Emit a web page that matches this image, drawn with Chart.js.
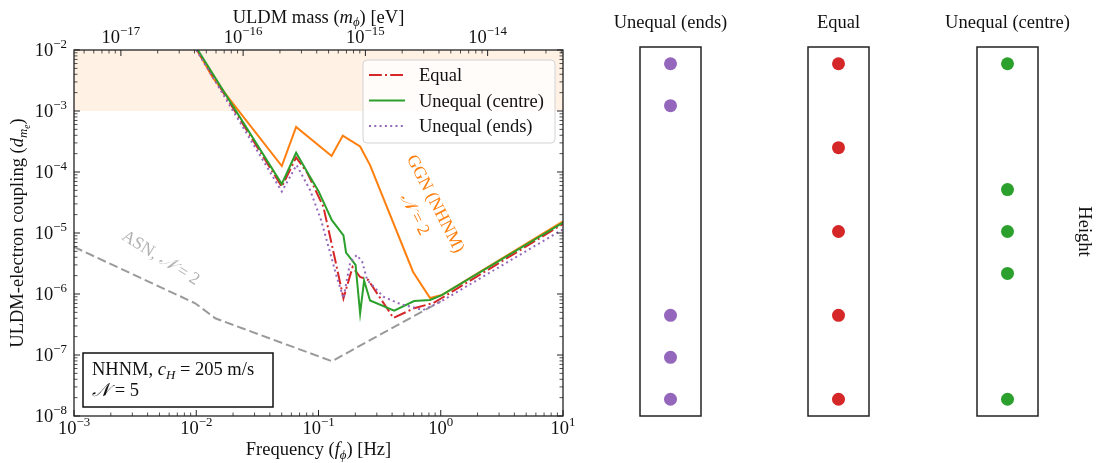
<!DOCTYPE html>
<html>
<head>
<meta charset="utf-8">
<script src="https://cdn.jsdelivr.net/npm/chart.js@4.4.0/dist/chart.umd.min.js"></script>
<style>
  body { margin: 0; background: #fff; width: 1100px; height: 463px; overflow: hidden; position: relative; }
  canvas { position: absolute; top: 0; }
</style>
</head>
<body>
<canvas id="main" width="600" height="463" style="left:0"></canvas>
<canvas id="panelEnds" width="170" height="463" style="left:586px"></canvas>
<canvas id="panelEqual" width="170" height="463" style="left:754px"></canvas>
<canvas id="panelCentre" width="177" height="463" style="left:923px"></canvas>
<script>
// frequency [Hz] / coupling values
const ggnFreq = [0.01, 0.0137, 0.0501, 0.0656, 0.128, 0.158, 0.219, 0.264, 0.594, 0.818, 1.02, 10];
const ggnCoupling = [1.05e-2, 3.48e-3, 1.25e-4, 5.47e-4, 1.83e-4, 3.96e-4, 2.62e-4, 1.30e-4, 2.30e-6, 8.6e-7, 9.6e-7, 1.55e-5];

const equalFreq = [0.01, 0.0501, 0.0656, 0.0807, 0.1096, 0.137, 0.160, 0.190, 0.219, 0.255, 0.410, 0.605, 0.867, 1.02, 10];
const equalCoupling = [1.05e-2, 5.74e-5, 1.73e-4, 9.8e-5, 2.70e-5, 3.60e-6, 8.5e-7, 2.77e-6, 1.9e-6, 1.70e-6, 4.05e-7, 5.83e-7, 7.1e-7, 8.6e-7, 1.41e-5];

const centreFreq = [0.01, 0.0501, 0.0656, 0.0826, 0.0998, 0.1286, 0.160, 0.168, 0.201, 0.219, 0.236, 0.264, 0.416, 0.605, 0.818, 1.02, 10];
const centreCoupling = [1.1e-2, 6.35e-5, 2.07e-4, 9.27e-5, 4.89e-5, 1.62e-5, 9.16e-6, 4.79e-6, 2.99e-6, 4.82e-7, 1.66e-6, 7.82e-7, 5.32e-7, 7.67e-7, 7.98e-7, 9.6e-7, 1.48e-5];

const endsFreq = [0.01, 0.0501, 0.0662, 0.0853, 0.105, 0.141, 0.160, 0.182, 0.206, 0.228, 0.250, 0.340, 0.466, 0.718, 0.989, 10];
const endsCoupling = [1.0e-2, 4.79e-5, 1.30e-4, 5.07e-5, 1.63e-5, 1.92e-6, 8.5e-7, 3.39e-6, 4.36e-6, 3.35e-6, 1.70e-6, 9.0e-7, 6.86e-7, 5.47e-7, 7.4e-7, 1.15e-5];

const asnFreq = [0.001, 0.0098, 0.0143, 0.1286, 1.0];
const asnCoupling = [5.9e-6, 7.05e-7, 4.0e-7, 7.9e-8, 7.6e-7];

const excludedBand = [1e-3, 1e-2];

const freqTicks = [1e-3, 1e-2, 1e-1, 1e0, 1e1];
const couplingTicks = [1e-8, 1e-7, 1e-6, 1e-5, 1e-4, 1e-3, 1e-2];
const massTicks = [1e-17, 1e-16, 1e-15, 1e-14];
const EV_PER_HZ = 1 / 2.418e14;

// sensor heights in the three configurations
const endsHeights = [0, 0.5, 1, 3.5, 4];
const equalHeights = [0, 1, 2, 3, 4];
const centreHeights = [0, 1.5, 2, 2.5, 4];

const SERIF = '"Liberation Serif", "DejaVu Serif", serif';
const FS = 18.5;
const CAL_N = '\u{1D4A9}';

function pairs(xs, ys) { return xs.map((x, i) => ({ x: x, y: ys[i] })); }

function segFont(s, size) {
  const k = s.sub === 2 ? 0.52 : (s.sub || s.sup) ? 0.7 : 1;
  return (s.it ? 'italic ' : '') + (size * k).toFixed(1) + 'px ' + SERIF;
}
function richWidth(ctx, segs, size) {
  let w = 0;
  segs.forEach(s => { ctx.font = segFont(s, size); w += ctx.measureText(s.t).width; });
  return w;
}
function drawRich(ctx, segs, x, y, size, color, align, angle) {
  ctx.save();
  ctx.translate(x, y);
  if (angle) ctx.rotate(angle);
  ctx.fillStyle = color;
  ctx.textBaseline = 'alphabetic';
  ctx.textAlign = 'left';
  const w = richWidth(ctx, segs, size);
  let cx = align === 'center' ? -w / 2 : align === 'right' ? -w : 0;
  segs.forEach(s => {
    ctx.font = segFont(s, size);
    const dy = s.sub === 2 ? size * 0.36 : s.sub ? size * 0.2 : s.sup ? -size * 0.42 : 0;
    ctx.fillText(s.t, cx, dy);
    cx += ctx.measureText(s.t).width;
  });
  ctx.restore();
}
function powSegs(v) {
  const e = Math.round(Math.log10(v));
  return [{ t: '10' }, { t: (e < 0 ? '\u2212' : '') + Math.abs(e), sup: true }];
}
function logSteps(min, max) {
  const out = { major: [], minor: [] };
  for (let d = Math.floor(Math.log10(min)) - 1; d <= Math.ceil(Math.log10(max)); d++) {
    for (let k = 1; k < 10; k++) {
      const v = k * Math.pow(10, d);
      if (v < min * 0.9999 || v > max * 1.0001) continue;
      (k === 1 ? out.major : out.minor).push(v);
    }
  }
  return out;
}

const mainDecor = {
  id: 'mainDecor',
  beforeDatasetsDraw(chart) {
    const { ctx, chartArea: a, scales: { y } } = chart;
    const top = y.getPixelForValue(excludedBand[1]);
    const bot = y.getPixelForValue(excludedBand[0]);
    ctx.save();
    ctx.fillStyle = 'rgba(255,140,30,0.12)';
    ctx.fillRect(a.left, top, a.right - a.left, bot - top);
    ctx.restore();
  },
  afterDraw(chart) {
    const { ctx, chartArea: a, scales: { x, x2, y } } = chart;
    ctx.save();
    // inward ticks
    ctx.strokeStyle = '#222';
    const tick = (x0, y0, x1, y1, w) => { ctx.lineWidth = w; ctx.beginPath(); ctx.moveTo(x0, y0); ctx.lineTo(x1, y1); ctx.stroke(); };
    const fx = logSteps(x.min, x.max);
    fx.major.forEach(v => { const p = x.getPixelForValue(v); tick(p, a.bottom, p, a.bottom - 6, 1); });
    fx.minor.forEach(v => { const p = x.getPixelForValue(v); tick(p, a.bottom, p, a.bottom - 3.5, 0.8); });
    const fm = logSteps(x2.min, x2.max);
    fm.major.forEach(v => { const p = x2.getPixelForValue(v); tick(p, a.top, p, a.top + 6, 1); });
    fm.minor.forEach(v => { const p = x2.getPixelForValue(v); tick(p, a.top, p, a.top + 3.5, 0.8); });
    const fy = logSteps(y.min, y.max);
    fy.major.forEach(v => { const p = y.getPixelForValue(v); tick(a.left, p, a.left + 6, p, 1); tick(a.right, p, a.right - 6, p, 1); });
    fy.minor.forEach(v => { const p = y.getPixelForValue(v); tick(a.left, p, a.left + 3.5, p, 0.8); tick(a.right, p, a.right - 3.5, p, 0.8); });
    // frame
    ctx.lineWidth = 1.3;
    ctx.strokeRect(a.left, a.top, a.right - a.left, a.bottom - a.top);

    // tick labels
    freqTicks.forEach(v => drawRich(ctx, powSegs(v), x.getPixelForValue(v), a.bottom + 18, FS, '#111', 'center'));
    massTicks.forEach(v => drawRich(ctx, powSegs(v), x2.getPixelForValue(v), a.top - 7, FS, '#111', 'center'));
    couplingTicks.forEach(v => drawRich(ctx, powSegs(v), a.left - 7, y.getPixelForValue(v) + 6, FS, '#111', 'right'));

    // axis titles
    const cxm = (a.left + a.right) / 2;
    drawRich(ctx, [{ t: 'Frequency (' }, { t: 'f', it: true }, { t: '\u03D5', it: true, sub: true }, { t: ') [Hz]' }], cxm, 455, FS, '#111', 'center');
    drawRich(ctx, [{ t: 'ULDM mass (' }, { t: 'm', it: true }, { t: '\u03D5', it: true, sub: true }, { t: ') [eV]' }], cxm, 22.5, FS, '#111', 'center');
    drawRich(ctx, [{ t: 'ULDM-electron coupling (' }, { t: 'd', it: true }, { t: 'm', it: true, sub: true }, { t: 'e', it: true, sub: 2 }, { t: ')' }],
      23, (a.top + a.bottom) / 2, FS, '#111', 'center', -Math.PI / 2);

    // annotations
    const th = 63 * Math.PI / 180;
    drawRich(ctx, [{ t: 'GGN (NHNM)' }], 431, 206, 17.5, '#ff7f0e', 'center', th);
    drawRich(ctx, [{ t: CAL_N, it: true }, { t: ' = 2' }], 431 - 23 * Math.sin(th), 206 + 23 * Math.cos(th), 17.5, '#ff7f0e', 'center', th);
    drawRich(ctx, [{ t: 'ASN, ' }, { t: CAL_N, it: true }, { t: ' = 2' }], 158, 262, 17.5, '#b3b3b3', 'center', 32 * Math.PI / 180);

    // info box
    ctx.fillStyle = '#fff';
    ctx.fillRect(83, 353, 190, 54);
    ctx.strokeStyle = '#111';
    ctx.lineWidth = 1.5;
    ctx.strokeRect(83, 353, 190, 54);
    drawRich(ctx, [{ t: 'NHNM, ' }, { t: 'c', it: true }, { t: 'H', it: true, sub: true }, { t: ' = 205 m/s' }], 92, 375, FS, '#111', 'left');
    drawRich(ctx, [{ t: CAL_N, it: true }, { t: ' = 5' }], 92, 396, FS, '#111', 'left');

    // legend
    const lg = { x: 363, y: 60, w: 192, h: 83 };
    ctx.beginPath();
    ctx.roundRect(lg.x, lg.y, lg.w, lg.h, 4);
    ctx.fillStyle = 'rgba(255,255,255,0.8)';
    ctx.fill();
    ctx.strokeStyle = '#d3d3d3';
    ctx.lineWidth = 1;
    ctx.stroke();
    ['Equal', 'Unequal (centre)', 'Unequal (ends)'].forEach((name, i) => {
      const ds = chart.data.datasets.find(d => d.label === name);
      const yy = 75 + i * 25.5;
      ctx.strokeStyle = ds.borderColor;
      ctx.lineWidth = ds.borderWidth;
      ctx.setLineDash(ds.borderDash || []);
      ctx.beginPath(); ctx.moveTo(369, yy); ctx.lineTo(405, yy); ctx.stroke();
      ctx.setLineDash([]);
      drawRich(ctx, [{ t: name }], 419, yy + 6, FS, '#111', 'left');
    });
    ctx.restore();
  }
};

new Chart(document.getElementById('main'), {
  type: 'line',
  data: {
    datasets: [
      { label: 'ASN', data: pairs(asnFreq, asnCoupling), borderColor: '#9a9a9a', borderWidth: 2, borderDash: [9, 4], order: 5 },
      { label: 'GGN', data: pairs(ggnFreq, ggnCoupling), borderColor: '#ff7f0e', borderWidth: 2, order: 4 },
      { label: 'Equal', data: pairs(equalFreq, equalCoupling), borderColor: '#d62728', borderWidth: 2, borderDash: [12.8, 3.2, 2, 3.2], order: 3 },
      { label: 'Unequal (centre)', data: pairs(centreFreq, centreCoupling), borderColor: '#2ca02c', borderWidth: 2, order: 2 },
      { label: 'Unequal (ends)', data: pairs(endsFreq, endsCoupling), borderColor: '#9467bd', borderWidth: 2, borderDash: [2, 3.3], order: 1 }
    ]
  },
  options: {
    responsive: false,
    animation: false,
    layout: { padding: { right: 37 } },
    plugins: { legend: { display: false }, tooltip: { enabled: false } },
    elements: { point: { radius: 0 }, line: { tension: 0, fill: false } },
    scales: {
      x: { type: 'logarithmic', position: 'bottom', min: freqTicks[0], max: freqTicks[freqTicks.length - 1],
           ticks: { display: false }, grid: { display: false }, border: { display: false }, afterFit(s) { s.height = 47; } },
      x2: { type: 'logarithmic', position: 'top', min: freqTicks[0] * EV_PER_HZ, max: freqTicks[freqTicks.length - 1] * EV_PER_HZ,
            ticks: { display: false }, grid: { display: false }, border: { display: false }, afterFit(s) { s.height = 50; } },
      y: { type: 'logarithmic', min: couplingTicks[0], max: couplingTicks[couplingTicks.length - 1],
           ticks: { display: false }, grid: { display: false }, border: { display: false }, afterFit(s) { s.width = 74; } }
    }
  },
  plugins: [mainDecor]
});

function makePanel(id, heights, color, title, padRight, withLabel) {
  new Chart(document.getElementById(id), {
    type: 'scatter',
    data: { datasets: [{ label: title, data: heights.map(h => ({ x: 0, y: h })), backgroundColor: color, borderColor: color, pointRadius: 6.5, borderWidth: 0 }] },
    options: {
      responsive: false,
      animation: false,
      layout: { padding: { left: 54, right: padRight, top: 47, bottom: 47 } },
      plugins: { legend: { display: false }, tooltip: { enabled: false } },
      scales: { x: { display: false, min: -1, max: 1 }, y: { display: false, min: -0.2, max: 4.2 } }
    },
    plugins: [{
      id: 'panelDecor',
      afterDraw(chart) {
        const { ctx, chartArea: a } = chart;
        ctx.save();
        ctx.strokeStyle = '#222';
        ctx.lineWidth = 1.5;
        ctx.strokeRect(a.left, a.top, a.right - a.left, a.bottom - a.top);
        drawRich(ctx, [{ t: title }], (a.left + a.right) / 2, 28, FS, '#111', 'center');
        if (withLabel) drawRich(ctx, [{ t: 'Height' }], a.right + 41, (a.top + a.bottom) / 2, FS, '#111', 'center', Math.PI / 2);
        ctx.restore();
      }
    }]
  });
}
makePanel('panelEnds', endsHeights, '#9467bd', 'Unequal (ends)', 55, false);
makePanel('panelEqual', equalHeights, '#d62728', 'Equal', 55, false);
makePanel('panelCentre', centreHeights, '#2ca02c', 'Unequal (centre)', 62, true);
</script>
</body>
</html>
